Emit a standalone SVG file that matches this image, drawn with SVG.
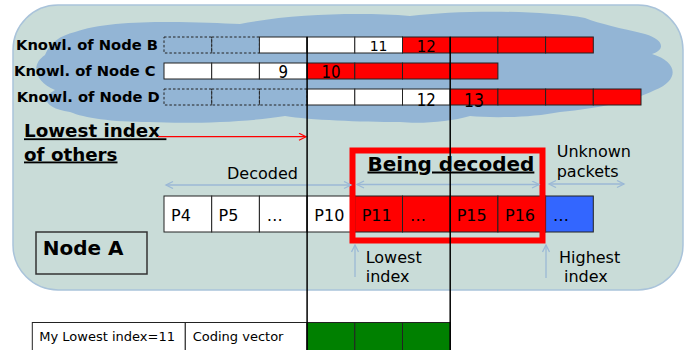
<svg xmlns="http://www.w3.org/2000/svg" width="700" height="350" viewBox="0 0 700 350">
<style>
text{font-family:"DejaVu Sans","Liberation Sans",sans-serif;fill:#000}
.lbl{font-size:14.7px;font-weight:bold}
.num{font-size:15px}
.pk{font-size:16px}
.cap{font-size:16px}
.sm{font-size:13px}
.cell{stroke:#222;stroke-width:1}
.w{fill:#fff}
.r{fill:#ff0000}
.dash{fill:none;stroke:#222;stroke-width:1;stroke-dasharray:2.5,2}
.blue{fill:#3366ff}
.g{fill:#008000}
.arr{stroke:#9bb8d6;stroke-width:1.3;fill:none}
.vl{stroke:#000;stroke-width:1.5}
</style>
<defs>
<marker id="chev" markerUnits="userSpaceOnUse" markerWidth="10" markerHeight="10" refX="8" refY="4" orient="auto-start-reverse" viewBox="0 0 10 10">
<path d="M1,0.5 L8,4 L1,7.5" fill="none" stroke="#9bb8d6" stroke-width="1.3"/>
</marker>
<marker id="chevR" markerUnits="userSpaceOnUse" markerWidth="10" markerHeight="10" refX="8" refY="4" orient="auto" viewBox="0 0 10 10">
<path d="M1,0.5 L8,4 L1,7.5" fill="none" stroke="#ff0000" stroke-width="1.2"/>
</marker>
</defs>

<g id="nodeA-area">
<rect x="13" y="5" width="670" height="285" rx="45" ry="45" fill="#c9dcd8" stroke="#a9c3da" stroke-width="1.5"/>
</g>

<g id="cloud">
<path d="M75,32 C110,18 200,22 240,24 C290,14 360,12 410,16 C460,10 540,10 585,18 C600,24 620,28 645,34 C665,40 665,50 652,54 C678,62 680,80 655,90 C630,102 600,108 560,112 C530,118 490,118 470,116 C450,122 420,124 400,122 C360,122 310,120 285,116 C250,122 190,124 150,122 C110,122 85,118 70,112 C45,108 40,98 55,90 C35,82 30,65 45,55 C50,42 60,36 75,32 Z" fill="#93b5d5"/>
</g>

<g id="knowB">
<text class="lbl" x="16" y="50">Knowl. of Node B</text>
<rect class="dash" x="164" y="37" width="47.7" height="16"/>
<rect class="dash" x="211.7" y="37" width="47.7" height="16"/>
<rect class="cell w" x="259.4" y="37" width="47.7" height="16"/>
<rect class="cell w" x="307.1" y="37" width="47.7" height="16"/>
<rect class="cell w" x="354.8" y="37" width="47.7" height="16"/>
<rect class="cell r" x="402.5" y="37" width="47.7" height="16"/>
<rect class="cell r" x="450.2" y="37" width="47.7" height="16"/>
<rect class="cell r" x="497.9" y="37" width="47.7" height="16"/>
<rect class="cell r" x="545.6" y="37" width="47.7" height="16"/>
<text class="num" transform="translate(378.6,50.7) scale(1,1.05)" style="font-size:14px" text-anchor="middle">11</text>
<text class="num" transform="translate(426.3,51.7) scale(1,1.05)" text-anchor="middle">12</text>
</g>

<g id="knowC">
<text class="lbl" x="14" y="76">Knowl. of Node C</text>
<rect class="cell w" x="164" y="63" width="47.7" height="16"/>
<rect class="cell w" x="211.7" y="63" width="47.7" height="16"/>
<rect class="cell w" x="259.4" y="63" width="47.7" height="16"/>
<rect class="cell r" x="307.1" y="63" width="47.7" height="16"/>
<rect class="cell r" x="354.8" y="63" width="47.7" height="16"/>
<rect class="cell r" x="402.5" y="63" width="47.7" height="16"/>
<rect class="cell r" x="450.2" y="63" width="47.7" height="16"/>
<text class="num" transform="translate(283.2,78.3) scale(1,1.2)" text-anchor="middle">9</text>
<text class="num" transform="translate(331,78.3) scale(1,1.2)" text-anchor="middle">10</text>
</g>

<g id="knowD">
<text class="lbl" x="16.7" y="102">Knowl. of Node D</text>
<rect class="dash" x="164" y="89" width="47.7" height="16"/>
<rect class="dash" x="211.7" y="89" width="47.7" height="16"/>
<rect class="dash" x="259.4" y="89" width="47.7" height="16"/>
<rect class="cell w" x="307.1" y="89" width="47.7" height="16"/>
<rect class="cell w" x="354.8" y="89" width="47.7" height="16"/>
<rect class="cell w" x="402.5" y="89" width="47.7" height="16"/>
<rect class="cell r" x="450.2" y="89" width="47.7" height="16"/>
<rect class="cell r" x="497.9" y="89" width="47.7" height="16"/>
<rect class="cell r" x="545.6" y="89" width="47.7" height="16"/>
<rect class="cell r" x="593.3" y="89" width="47.7" height="16"/>
<text class="num" transform="translate(426.3,105.7) scale(1,1.2)" text-anchor="middle">12</text>
<text class="num" style="font-size:15.7px" transform="translate(474,107) scale(1,1.2)" text-anchor="middle">13</text>
</g>

<g id="lowest-others">
<text xml:space="preserve" style="font-size:18.3px;font-weight:bold;text-decoration:underline" x="24" y="137.3">Lowest index </text>
<text style="font-size:18.3px;font-weight:bold;text-decoration:underline" x="24" y="160.5">of others</text>
</g>

<g id="packets">
<rect class="cell w" x="164" y="196" width="47.7" height="36"/>
<rect class="cell w" x="211.7" y="196" width="47.7" height="36"/>
<rect class="cell w" x="259.4" y="196" width="47.7" height="36"/>
<rect class="cell w" x="307.1" y="196" width="47.7" height="36"/>
<rect class="cell r" x="354.8" y="196" width="47.7" height="36"/>
<rect class="cell r" x="402.5" y="196" width="47.7" height="36"/>
<rect class="cell r" x="450.2" y="196" width="47.7" height="36"/>
<rect class="cell r" x="497.9" y="196" width="47.7" height="36"/>
<rect class="cell blue" x="545.6" y="196" width="47.7" height="36"/>
<text class="pk" x="171" y="220.7">P4</text>
<text class="pk" x="218.5" y="220.7">P5</text>
<text class="pk" x="266.7" y="220.7">…</text>
<text class="pk" x="314.3" y="220.7">P10</text>
<text class="pk" x="361.7" y="220.7">P11</text>
<text class="pk" x="410" y="220.7">…</text>
<text class="pk" x="456.7" y="220.7">P15</text>
<text class="pk" x="505" y="220.7">P16</text>
<text class="pk" x="553" y="220.7">…</text>
</g>

<g id="being-decoded">
<rect x="352.5" y="150.5" width="190" height="90" fill="none" stroke="#ff0000" stroke-width="6"/>
<text style="font-size:20px;font-weight:bold;text-decoration:underline" x="367.5" y="170.5">Being decoded</text>
</g>

<g id="labels">
<text class="cap" x="227" y="179">Decoded</text>
<text class="cap" x="556.7" y="156.7">Unknown</text>
<text class="cap" x="556.7" y="176.7">packets</text>
<text class="cap" x="365.7" y="262.7">Lowest</text>
<text class="cap" x="365.7" y="282.3">index</text>
<text class="cap" x="559" y="262.7">Highest</text>
<text class="cap" x="564" y="282.3">index</text>
</g>

<g id="nodeA">
<rect x="36" y="232" width="111" height="42" fill="none" stroke="#333" stroke-width="1.5"/>
<text style="font-size:20px;font-weight:bold" x="42.7" y="255">Node A</text>
</g>

<g id="header">
<rect class="cell w" x="32.3" y="322.5" width="153" height="30"/>
<rect class="cell w" x="185.3" y="322.5" width="121.8" height="30"/>
<rect class="cell g" x="307.1" y="322.5" width="47.7" height="30"/>
<rect class="cell g" x="354.8" y="322.5" width="47.7" height="30"/>
<rect class="cell g" x="402.5" y="322.5" width="47.7" height="30"/>
<text class="sm" x="39.3" y="340.7">My Lowest index=11</text>
<text class="sm" x="192.7" y="340.7">Coding vector</text>
</g>

<g id="connectors">
<line class="arr" x1="166" y1="185" x2="351" y2="185" marker-start="url(#chev)" marker-end="url(#chev)"/>
<line class="arr" x1="357" y1="184.5" x2="539" y2="184.5" marker-start="url(#chev)" marker-end="url(#chev)"/>
<line class="arr" x1="549" y1="184" x2="624" y2="184" marker-start="url(#chev)" marker-end="url(#chev)"/>
<line class="arr" x1="355" y1="277" x2="355" y2="245" marker-end="url(#chev)"/>
<line class="arr" x1="546" y1="278" x2="546" y2="245" marker-end="url(#chev)"/>
<line x1="158" y1="136.7" x2="306" y2="136.7" stroke="#ff0000" stroke-width="1.2" marker-end="url(#chevR)"/>
<line class="vl" x1="307.1" y1="37" x2="307.1" y2="350"/>
<line class="vl" x1="450.2" y1="37" x2="450.2" y2="350"/>
</g>
</svg>
